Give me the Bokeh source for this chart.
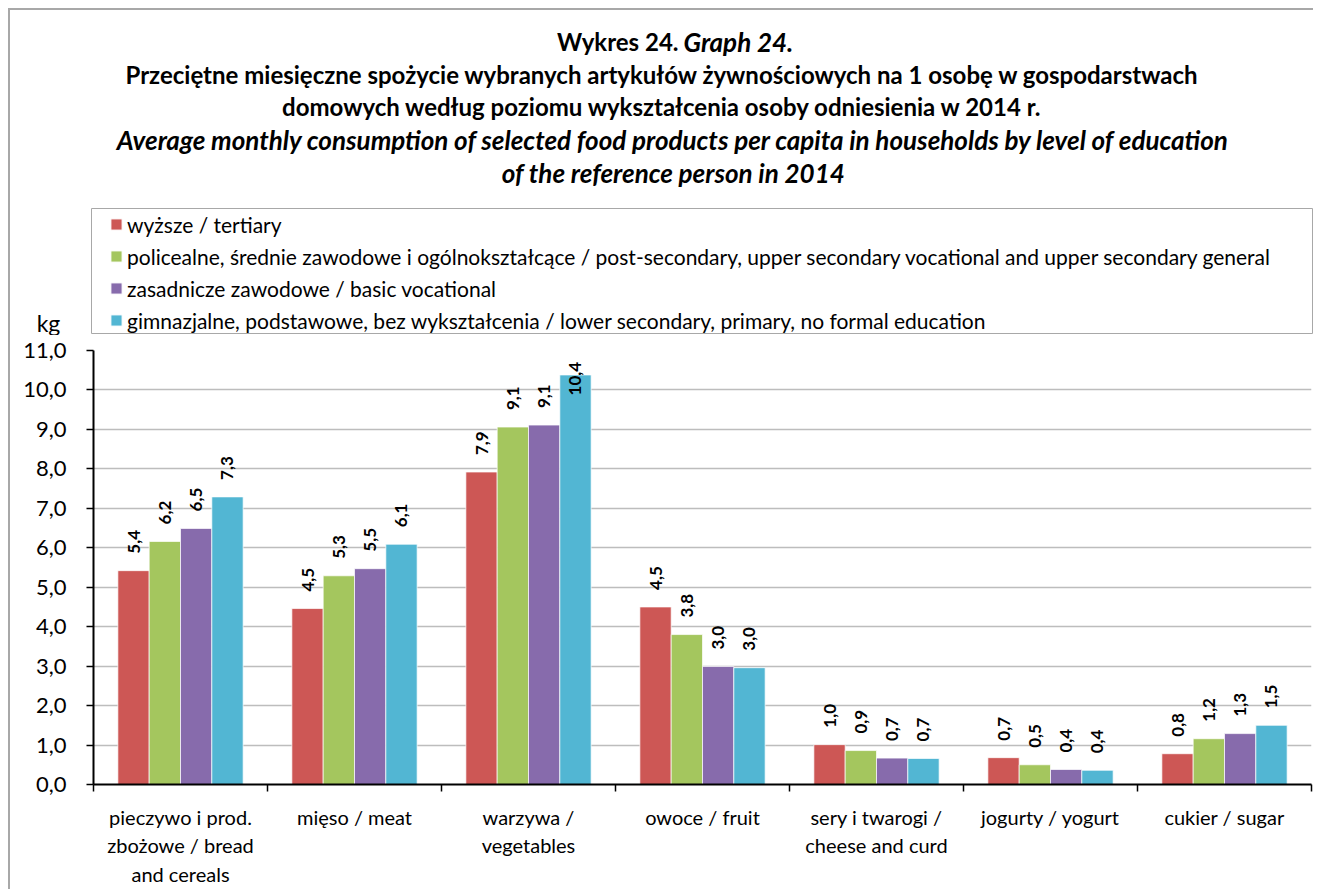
import math
from bokeh.plotting import figure
from bokeh.layouts import column
from bokeh.models import Range1d, FixedTicker, Legend, LegendItem, ColumnDataSource
from bokeh.core.properties import value
from bokeh.embed import file_html
from bokeh.resources import INLINE

# ---------------- data ----------------
categories = [
    "pieczywo i prod.\nzbożowe / bread\nand cereals",
    "mięso / meat",
    "warzywa /\nvegetables",
    "owoce / fruit",
    "sery i twarogi /\ncheese and curd",
    "jogurty / yogurt",
    "cukier / sugar",
]
series_names = [
    "wyższe / tertiary",
    "policealne, średnie zawodowe i ogólnokształcące / post-secondary, upper secondary vocational and upper secondary general",
    "zasadnicze zawodowe / basic vocational",
    "gimnazjalne, podstawowe, bez wykształcenia / lower secondary, primary, no formal education",
]
tertiary = [5.42, 4.46, 7.92, 4.50, 1.01, 0.68, 0.78]
post_secondary = [6.16, 5.29, 9.06, 3.80, 0.86, 0.50, 1.16]
basic_vocational = [6.49, 5.47, 9.11, 2.99, 0.67, 0.38, 1.29]
lower_secondary = [7.29, 6.09, 10.38, 2.96, 0.66, 0.36, 1.50]
series_values = [tertiary, post_secondary, basic_vocational, lower_secondary]
colors = ["#CD5755", "#A4C65E", "#876BAC", "#52B6D3"]
yticks = list(range(12))
ytick_labels = [f"{t},0" for t in yticks]

title_line1_a = "Wykres 24."
title_line1_b = "Graph 24."
title_bold_lines = [
    "Przeciętne miesięczne spożycie wybranych artykułów żywnościowych na 1 osobę w gospodarstwach",
    "domowych według poziomu wykształcenia osoby odniesienia w 2014 r.",
]
title_italic_lines = [
    "Average monthly consumption of selected food products per capita in households by level of education",
    "of the reference person in 2014",
]
unit_label = "kg"

FONT = "Lato"
BORDER = "2px solid #a8a8a8"

# ---------------- header (title + legend), page coordinates ----------------
HX0, HY0, HW, HH = 10, 10, 1305, 327
head = figure(width=HW, height=HH, min_border_left=0, min_border_right=0,
              min_border_top=0, min_border_bottom=0,
              x_range=Range1d(HX0, HX0 + HW), y_range=Range1d(HY0 + HH, HY0),
              x_axis_location=None, y_axis_location=None,
              output_backend="svg", toolbar_location=None,
              background_fill_color="white", border_fill_color="white")
head.grid.visible = False
head.outline_line_color = None
head.frame_align = False
head.margin = (8, 0, 0, 8)
head.styles = {"border-top": BORDER, "border-left": BORDER}

head.text(x=[678], y=[41], text=[title_line1_a], text_align="right", text_baseline="alphabetic",
          text_font=value(FONT), text_font_size="24px", text_font_style="bold", text_color="black")
head.text(x=[683], y=[41], text=[title_line1_b], text_align="left", text_baseline="alphabetic",
          text_font=value(FONT), text_font_size="26px", text_font_style="bold italic", text_color="black")
head.text(x=[662, 662], y=[74, 106], text=title_bold_lines, text_align="center",
          text_baseline="alphabetic", text_font=value(FONT), text_font_size="24px",
          text_font_style="bold", text_color="black")
head.text(x=[673, 673], y=[139, 172], text=title_italic_lines, text_align="center",
          text_baseline="alphabetic", text_font=value(FONT), text_font_size="26px",
          text_font_style="bold italic", text_color="black")
head.text(x=[48], y=[322], text=[unit_label], text_align="center", text_baseline="alphabetic",
          text_font=value(FONT), text_font_size="23px", text_color="black")

# legend frame
head.quad(left=[91], right=[1312], top=[208], bottom=[333], fill_alpha=0,
          line_color="#a8a8a8", line_width=1)

# hidden swatch renderers (only their legend glyphs are shown)
leg_renderers = []
for col in colors:
    r = head.vbar(x=[0], top=[0], width=1, fill_color=col, line_color="white",
                  line_width=1, visible=False)
    leg_renderers.append(r)
legend = Legend(items=[LegendItem(label=n, renderers=[r]) for n, r in zip(series_names, leg_renderers)],
                location=(109 - HX0, 4), orientation="vertical",
                padding=6, spacing=6, label_height=26, glyph_height=14, glyph_width=14,
                label_standoff=4, label_text_font=FONT, label_text_font_size="21px",
                label_text_color="black", border_line_color=None,
                background_fill_alpha=0, margin=0)
head.add_layout(legend, "center")

# ---------------- main chart ----------------
FL, FT, FW, FH = 83, 15, 1216, 434
p = figure(frame_width=FW, frame_height=FH,
           min_border_left=FL, min_border_right=6,
           min_border_top=FT, min_border_bottom=102,
           x_range=Range1d(0, len(categories)), y_range=Range1d(0, 11),
           output_backend="svg", toolbar_location=None,
           background_fill_color="white", border_fill_color="white")
p.outline_line_color = None
p.frame_align = False
p.margin = (0, 0, 0, 8)
p.styles = {"border-left": BORDER}

bar_w = 0.18
offsets = [-0.27, -0.09, 0.09, 0.27]
lab_x, lab_y, lab_t = [], [], []
label_cap = 9.43
for vals, off, col in zip(series_values, offsets, colors):
    xs = [i + 0.5 + off for i in range(len(categories))]
    src = ColumnDataSource(dict(x=xs, top=vals))
    p.vbar(x="x", top="top", width=bar_w, source=src,
           fill_color=col, line_color="white", line_width=1, line_alpha=0.7)
    for xv, v in zip(xs, vals):
        lab_x.append(xv)
        lab_y.append(min(v, label_cap))
        lab_t.append(f"{v:.1f}".replace(".", ","))

lsrc = ColumnDataSource(dict(x=lab_x, y=lab_y, t=lab_t))
p.text(x="x", y="y", text="t", source=lsrc, angle=math.pi / 2,
       text_align="left", text_baseline="middle", y_offset=-17,
       text_font=value(FONT), text_font_style="bold",
       text_font_size="17px", text_color="black")

p.xgrid.visible = False
p.ygrid.ticker = FixedTicker(ticks=yticks)
p.ygrid.grid_line_color = "#bdbdbd"
p.ygrid.grid_line_width = 1.5

yax = p.yaxis[0]
yax.ticker = FixedTicker(ticks=yticks)
yax.major_label_overrides = {t: l for t, l in zip(yticks, ytick_labels)}
yax.axis_line_color = "black"
yax.axis_line_width = 2
yax.major_tick_line_color = "black"
yax.major_tick_line_width = 1.5
yax.major_tick_out = 7
yax.major_tick_in = 0
yax.minor_tick_line_color = None
yax.major_label_standoff = 20
yax.major_label_text_font = FONT
yax.major_label_text_font_size = "22px"
yax.major_label_text_color = "black"

xax = p.xaxis[0]
centers = [i + 0.5 for i in range(len(categories))]
xax.ticker = FixedTicker(ticks=centers, minor_ticks=list(range(len(categories) + 1)))
xax.major_label_overrides = {c: n for c, n in zip(centers, categories)}
xax.axis_line_color = "black"
xax.axis_line_width = 2
xax.major_tick_line_color = None
xax.major_tick_out = 0
xax.major_tick_in = 0
xax.minor_tick_line_color = "black"
xax.minor_tick_line_width = 1.5
xax.minor_tick_out = 7
xax.minor_tick_in = 0
xax.major_label_standoff = 13
xax.major_label_text_font = FONT
xax.major_label_text_font_size = "20px"
xax.major_label_text_color = "black"

layout = column(head, p, spacing=0)
open("out.html", "w").write(file_html(layout, INLINE))
